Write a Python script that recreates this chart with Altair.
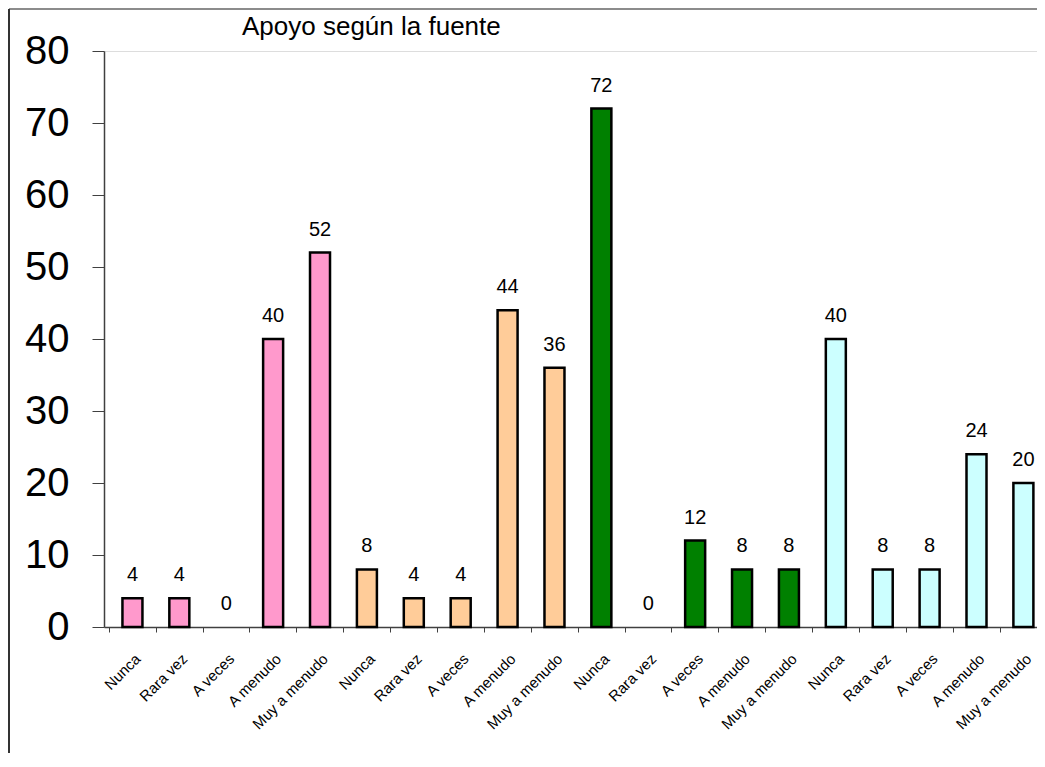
import json
import altair as alt
import pandas as pd

groups = ["Fuente 1", "Fuente 2", "Fuente 3", "Fuente 4"]
categories = ["Nunca", "Rara vez", "A veces", "A menudo", "Muy a menudo"]
values_1 = [4, 4, 0, 40, 52]
values_2 = [8, 4, 4, 44, 36]
values_3 = [72, 0, 12, 8, 8]
values_4 = [40, 8, 8, 24, 20]
colors = ["#FF99CC", "#FFCC99", "#008000", "#CCFFFF"]
y_ticks = [0, 10, 20, 30, 40, 50, 60, 70, 80]
title_text = "Apoyo según la fuente"

FONT = "Liberation Sans"

rows = []
for gi, (g, vals) in enumerate(zip(groups, [values_1, values_2, values_3, values_4])):
    for ci, (c, v) in enumerate(zip(categories, vals)):
        rows.append({"idx": gi * 5 + ci, "grupo": g, "categoria": c, "valor": v})
df = pd.DataFrame(rows)
labels = [r["categoria"] for r in rows]
n = len(labels)
label_expr = json.dumps(labels) + "[floor(datum.value)]"

PAD_LEFT = 96
PLOT_W = 933          # visible plot width (chart is cut at the page edge)
FULL_W = 948          # width the 20 category slots would need
STEP = FULL_W / n
x_max = n * PLOT_W / FULL_W

x_scale = alt.Scale(domain=[0, x_max], nice=False, zero=False)
y_scale = alt.Scale(domain=[0, 80], nice=False)

x_enc = alt.X(
    "pos:Q",
    scale=x_scale,
    axis=alt.Axis(
        title=None,
        values=[i + 0.5 for i in range(n)],
        labelExpr=label_expr,
        labelAngle=-45,
        labelFontSize=15,
        labelFont=FONT,
        labelColor="#000000",
        labelPadding=19,
        tickOffset=-STEP / 2,
        labelOffset=STEP / 2,
        tickSize=5,
        tickColor="#404040",
        domainColor="#404040",
        domainWidth=1.5,
        labelOverlap=False,
        labelBound=False,
        labelFlush=False,
        grid=False,
    ),
)
y_enc = alt.Y(
    "valor:Q",
    scale=y_scale,
    axis=alt.Axis(
        title=None,
        values=y_ticks,
        grid=False,
        labelFontSize=40,
        labelFont=FONT,
        labelColor="#000000",
        tickSize=12,
        labelPadding=23,
        tickColor="#404040",
        domainColor="#404040",
        domainWidth=1.5,
    ),
)
color_enc = alt.Color(
    "grupo:N", scale=alt.Scale(domain=groups, range=colors), legend=None
)

base = alt.Chart(df).transform_calculate(pos="datum.idx + 0.5")
bars = base.transform_filter("datum.valor > 0").mark_bar(
    stroke="#000000", strokeWidth=2.5, width=20
).encode(x=x_enc, y=y_enc, y2=alt.datum(0), color=color_enc)
texts = base.mark_text(
    baseline="alphabetic", dy=-17, fontSize=20, font=FONT, color="#000000"
).encode(x="pos:Q", y="valor:Q", text="valor:Q")

one = pd.DataFrame({"k": [0]})
title = alt.Chart(one).mark_text(
    text=title_text, align="left", baseline="alphabetic", fontSize=26,
    font=FONT, color="#000000"
).encode(x=alt.value(138), y=alt.value(-16))
frame_top = alt.Chart(one).mark_rule(color="#8c8c8c", strokeWidth=2).encode(
    x=alt.value(-95), x2=alt.value(960), y=alt.value(-42)
)
frame_left = alt.Chart(one).mark_rule(color="#333333", strokeWidth=2).encode(
    x=alt.value(-95), y=alt.value(-42), y2=alt.value(720)
)

chart = alt.layer(bars, texts, title, frame_top, frame_left).properties(
    width=PLOT_W,
    height=576,
    autosize=alt.AutoSizeParams(type="none"),
    padding={"left": PAD_LEFT, "top": 43, "right": 0, "bottom": 126},
).configure_view(strokeWidth=0).configure(background="#ffffff")

chart.save("out.html", embed_options={"renderer": "svg", "actions": False})
